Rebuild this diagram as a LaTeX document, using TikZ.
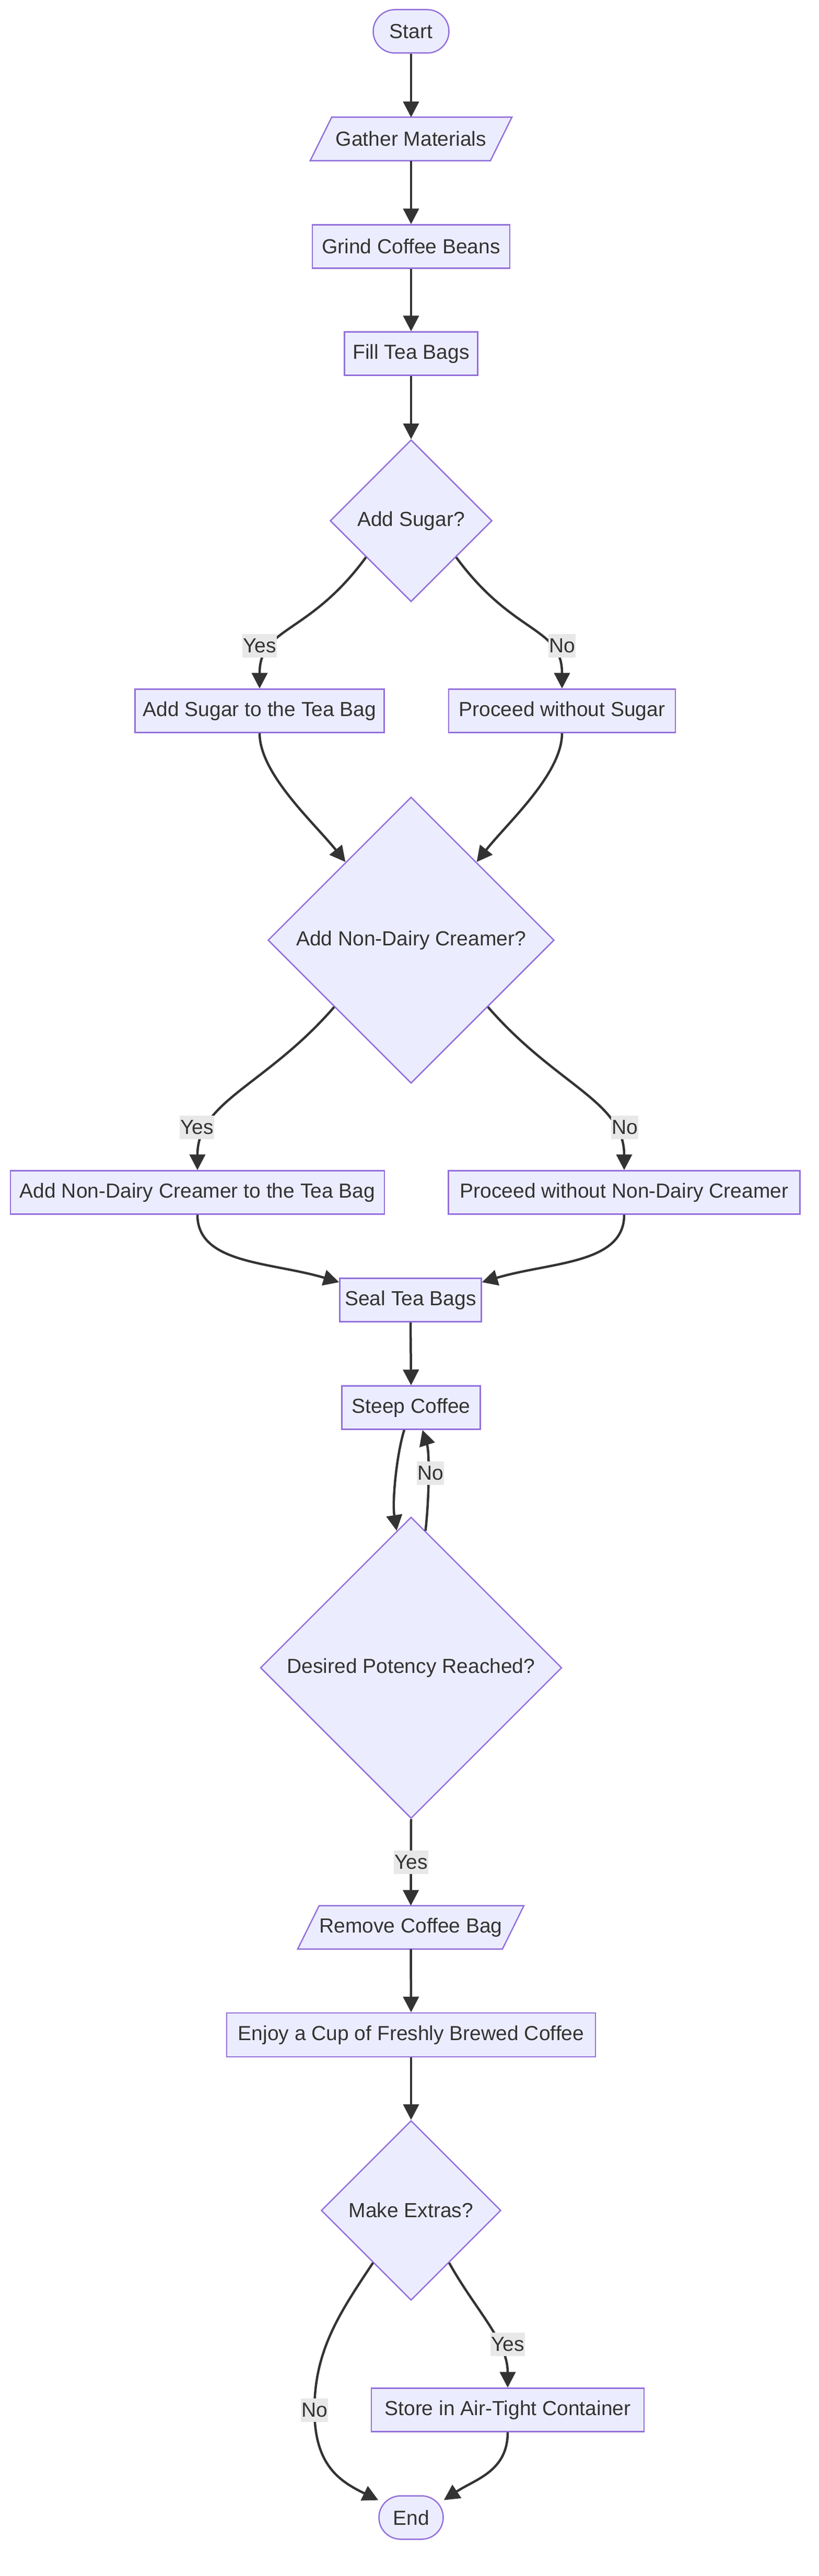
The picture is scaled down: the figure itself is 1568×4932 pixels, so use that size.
\documentclass[tikz,border=0pt]{standalone}
\usepackage{fontspec}
\setmainfont{Liberation Sans}
\usetikzlibrary{shapes.geometric,arrows.meta,calc}
\definecolor{nfill}{HTML}{ECECFF}
\definecolor{nstroke}{HTML}{9370DB}
\definecolor{ecol}{HTML}{333333}
\definecolor{lfill}{HTML}{E8E8E8}
\pgfdeclarelayer{bg}
\pgfsetlayers{bg,main}
\begin{document}
\begin{tikzpicture}[x=1pt,y=-1pt,
  base/.style={font=\fontsize{39}{46}\selectfont, text=ecol, inner sep=0pt},
  box/.style={base, rectangle, draw=nstroke, fill=nfill, line width=2.5pt, minimum height=83pt},
  term/.style={box, rounded corners=41.5pt},
  dia/.style={base, diamond, aspect=1, draw=nstroke, fill=nfill, line width=2.5pt},
  para/.style={base, rectangle, minimum height=83pt, outer sep=0pt},
  parashape/.style={draw=nstroke, fill=nfill, line width=2.5pt, line join=miter},
  lab/.style={base, fill=lfill, inner xsep=1pt, minimum height=45pt},
  edge/.style={draw=ecol, line width=4.5pt, -{Triangle[length=30pt,width=30pt]}}
]
\useasboundingbox (0,0) rectangle (1568,4932);

% nodes
\node[term, minimum width=145pt] (start) at (787,60) {Start};
\node[para, minimum width=386pt] (gather) at (787,266) {Gather Materials};
\node[box, minimum width=378pt] (grind) at (787,472) {Grind Coffee Beans};
\node[box, minimum width=255pt] (fill) at (787,677) {Fill Tea Bags};
\node[dia, minimum width=310pt, minimum height=310pt] (sugar) at (787,997) {Add Sugar?};
\node[box, minimum width=477pt] (addsugar) at (497,1361) {Add Sugar to the Tea Bag};
\node[box, minimum width=434pt] (nosugar) at (1076,1361) {Proceed without Sugar};
\node[dia, minimum width=548pt, minimum height=548pt] (creamer) at (787,1800) {Add Non-Dairy Creamer?};
\node[box, minimum width=716pt] (addcream) at (378,2283) {Add Non-Dairy Creamer to the Tea Bag};
\node[box, minimum width=673pt] (nocream) at (1195,2283) {Proceed without Non-Dairy Creamer};
\node[box, minimum width=271pt] (seal) at (786,2489) {Seal Tea Bags};
\node[box, minimum width=265pt] (steep) at (787,2695) {Steep Coffee};
\node[dia, minimum width=577pt, minimum height=577pt] (potency) at (787,3193) {Desired Potency Reached?};
\node[para, minimum width=433pt] (remove) at (786.5,3690) {Remove Coffee Bag};
\node[box, minimum width=706pt, minimum height=84pt] (enjoy) at (787,3896) {Enjoy a Cup of Freshly Brewed Coffee};
\node[dia, minimum width=344pt, minimum height=344pt] (extras) at (787,4232) {Make Extras?};
\node[box, minimum width=522pt] (store) at (972,4614) {Store in Air-Tight Container};
\node[term, minimum width=123pt] (finish) at (787,4820) {End};

% background and parallelogram outlines behind their texts
\begin{pgfonlayer}{bg}
\fill[white] (0,0) rectangle (1568,4932);
\path[parashape] (gather.south west) -- ([xshift=41pt]gather.north west) -- (gather.north east) -- ([xshift=-41pt]gather.south east) -- cycle;
\path[parashape] (remove.south west) -- ([xshift=41pt]remove.north west) -- (remove.north east) -- ([xshift=-41pt]remove.south east) -- cycle;
\end{pgfonlayer}

% label positions
\coordinate (ly1) at (497,1236);
\coordinate (ln1) at (1076,1236);
\coordinate (ly2) at (377,2158);
\coordinate (ln2) at (1196,2158);
\coordinate (ln3) at (824,2820);
\coordinate (ly3) at (787,3565);
\coordinate (ly4) at (972,4488);
\coordinate (ln4) at (602,4614);

% edges
\draw[edge] (start.south) -- (gather.north);
\draw[edge] (gather.south) -- (grind.north);
\draw[edge] (grind.south) -- (fill.north);
\draw[edge] (fill.south) -- (sugar.north);
\draw[edge] (sugar.219) .. controls +(-110,150) and +(0,-119) .. (addsugar.north);
\draw[edge] (sugar.321) .. controls +(110,150) and +(0,-119) .. (nosugar.north);
\draw[edge] (addsugar.south) .. controls +(0,78) and +(-60,-75) .. (creamer.130);
\draw[edge] (nosugar.south) .. controls +(0,78) and +(59,-75) .. (creamer.50);
\draw[edge] (creamer.221) .. controls +(-130,150) and +(0,-132) .. (addcream.north);
\draw[edge] (creamer.319) .. controls +(130,150) and +(0,-132) .. (nocream.north);
\draw[edge] (addcream.south) .. controls +(0,95) and +(-130,-39) .. (seal.166);
\draw[edge] (nocream.south) .. controls +(0,95) and +(131,-39) .. (seal.14);
\draw[edge] (seal.south) -- (steep.north);
\draw[edge] (steep.253) .. controls +(-14,44) and +(-9,-58) .. (potency.96);
\draw[edge] (potency.84) .. controls +(7,-59) and +(14,44) .. (steep.297);
\draw[edge] (potency.south) -- (remove.north);
\draw[edge] (remove.south) -- (enjoy.north);
\draw[edge] (enjoy.south) -- (extras.north);
\draw[edge] (extras.306) .. controls +(50,90) and +(0,-90) .. (store.north);
\draw[edge] (extras.234) .. controls +(-64,96) and +(0,-114) .. (ln4) .. controls +(0,106) and +(-74,-36) .. (finish.152);
\draw[edge] (store.south) .. controls +(0,75) and +(60,-40) .. (finish.28);

% edge labels
\node[lab] (y1) at (ly1) {Yes};
\node[lab] (n1) at (ln1) {No};
\node[lab] (y2) at (ly2) {Yes};
\node[lab] (n2) at (ln2) {No};
\node[lab] (n3) at (ln3) {No};
\node[lab] (y3) at (ly3) {Yes};
\node[lab] (y4) at (ly4) {Yes};
\node[lab] (n4) at (ln4) {No};
\end{tikzpicture}
\end{document}
